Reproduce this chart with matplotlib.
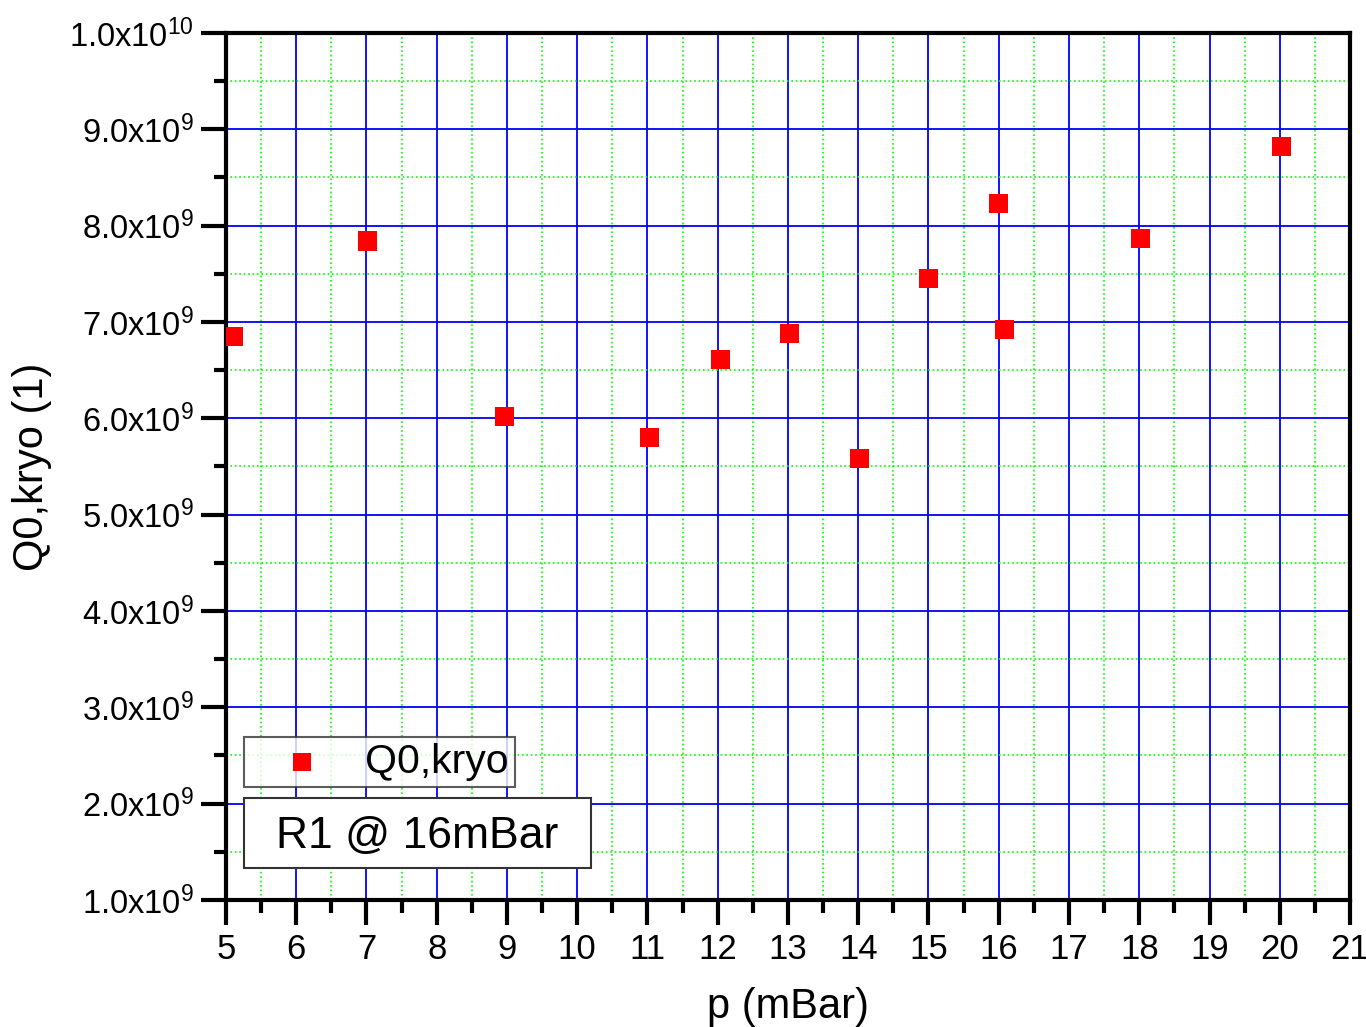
import matplotlib.pyplot as plt
from matplotlib.ticker import MultipleLocator, FuncFormatter
from matplotlib.patches import Rectangle

plt.rcParams['font.family'] = ['Liberation Sans', 'DejaVu Sans']
plt.rcParams['mathtext.fontset'] = 'custom'
plt.rcParams['mathtext.rm'] = 'Liberation Sans'

# data
p = [5.1, 7.02, 8.97, 11.03, 12.04, 13.02, 14.02, 15.0, 16.0, 16.08, 18.02, 20.03]
q0 = [6.85e9, 7.84e9, 6.02e9, 5.80e9, 6.61e9, 6.88e9, 5.58e9, 7.45e9, 8.23e9, 6.92e9, 7.87e9, 8.82e9]

fig = plt.figure(figsize=(13.66, 10.27), dpi=100)
ax = fig.add_axes([0.1654, 0.1237, 0.8229, 0.8442])

ax.scatter(p, q0, marker='s', s=190, color='#ff0000', edgecolors='none',
           label='Q0,kryo', zorder=3)

ax.set_xlim(5, 21)
ax.set_ylim(1e9, 1e10)
ax.xaxis.set_major_locator(MultipleLocator(1))
ax.xaxis.set_minor_locator(MultipleLocator(0.5))
ax.yaxis.set_major_locator(MultipleLocator(1e9))
ax.yaxis.set_minor_locator(MultipleLocator(0.5e9))

def yfmt(v, pos):
    e = 10 if v >= 9.99e9 else 9
    m = v / 10**e
    return r'$\mathregular{%.1fx10^{%d}}$' % (m, e)

ax.yaxis.set_major_formatter(FuncFormatter(yfmt))

ax.grid(which='major', color='#0000ff', linestyle='-', linewidth=1.3)
ax.grid(which='minor', color='#00ff00', linestyle=':', linewidth=1.2)
ax.set_axisbelow(True)

ax.tick_params(which='major', direction='out', length=18, width=3, pad=6)
ax.tick_params(which='minor', direction='out', length=9, width=3)
ax.tick_params(axis='x', labelsize=25)
ax.tick_params(axis='y', labelsize=23.5, pad=5)
for s in ax.spines.values():
    s.set_linewidth(3)

ax.set_xlabel('p (mBar)', fontsize=30, labelpad=15)
ax.set_ylabel('Q0,kryo (1)', fontsize=30, labelpad=12)

leg = ax.legend(loc='lower left', bbox_to_anchor=(0.016, 0.130), borderaxespad=0,
                fontsize=29.5, frameon=True, fancybox=False, edgecolor='#333333',
                handletextpad=0.25, borderpad=0.15, markerscale=0.95,
                handlelength=2.55)
leg.get_frame().set_linewidth(1.5)

# note box
ax.add_patch(Rectangle((0.016, 0.0369), 0.3087, 0.0807, transform=ax.transAxes,
                       facecolor='white', edgecolor='#333333', linewidth=1.5,
                       zorder=5))
ax.text(0.1704, 0.073, 'R1 @ 16mBar', transform=ax.transAxes, fontsize=32,
        va='center', ha='center', zorder=6)

plt.savefig('out.png', dpi=100)
